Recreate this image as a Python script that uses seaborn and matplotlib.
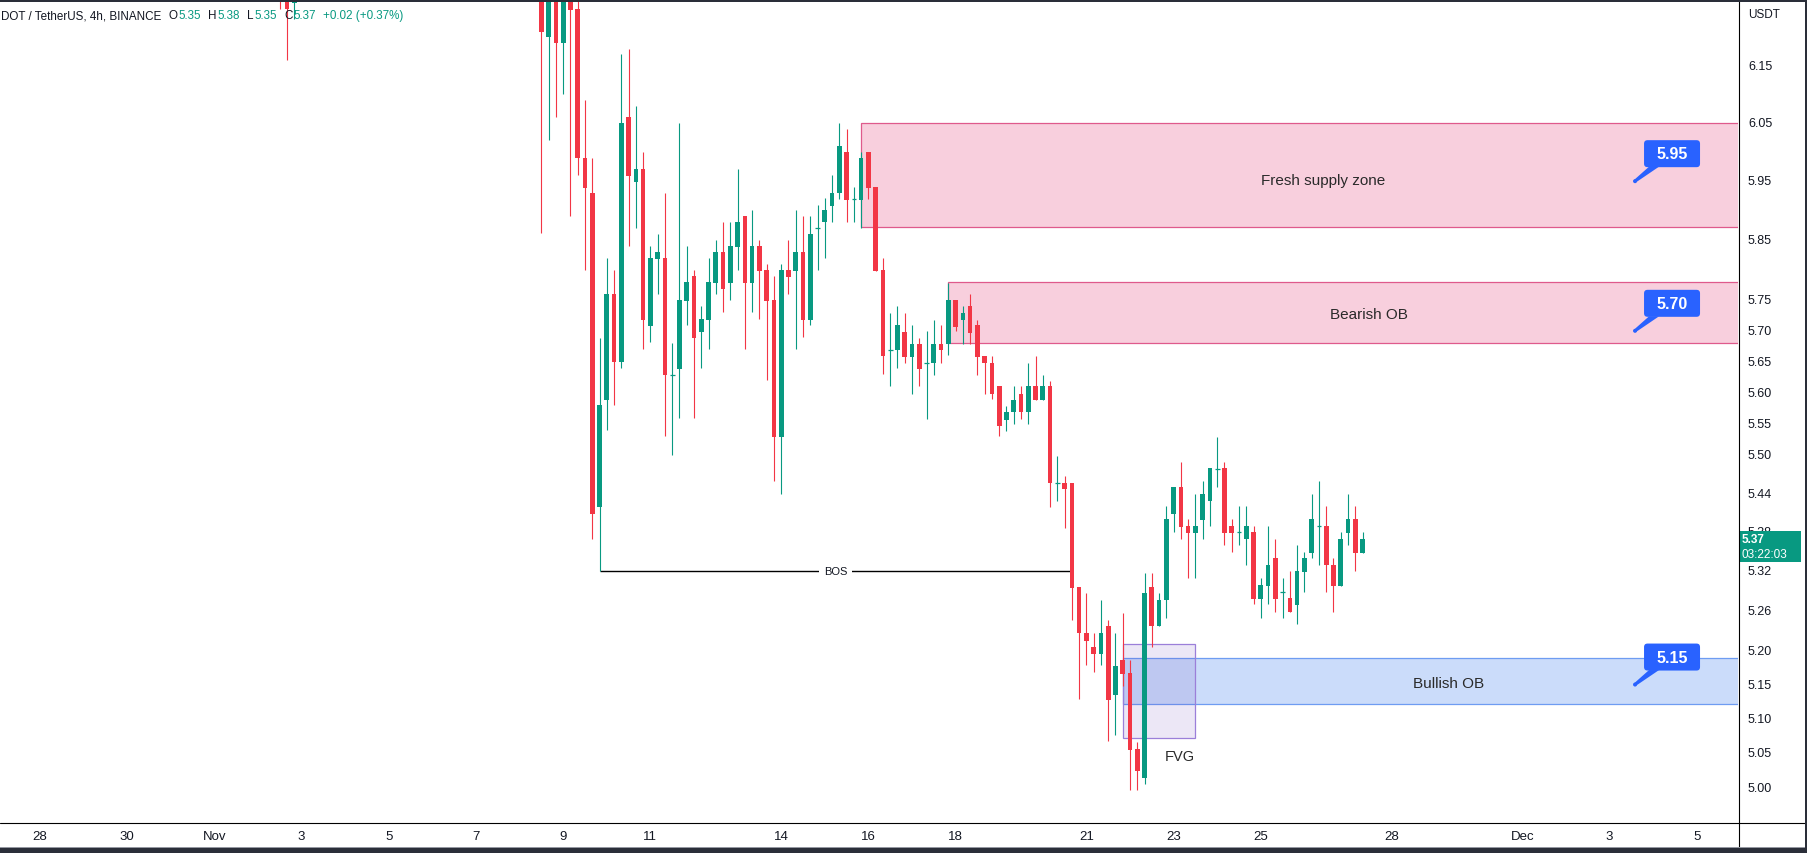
import numpy as np
import pandas as pd
import matplotlib
matplotlib.use("Agg")
import matplotlib.pyplot as plt
import matplotlib.dates as mdates
import seaborn as sns
from matplotlib.patches import Rectangle, FancyBboxPatch, Polygon, Circle
from matplotlib.transforms import IdentityTransform, blended_transform_factory
from matplotlib.lines import Line2D
from matplotlib.ticker import NullLocator

sns.set_theme(style="white")
plt.rcParams["font.family"] = ["Liberation Sans", "DejaVu Sans"]

# ---------------- data ----------------
early_times = ["2022-11-02 12:00", "2022-11-02 16:00", "2022-11-02 20:00"]
early_open = [6.40, 6.36, 6.262]
early_high = [6.42, 6.40, 6.34]
early_low = [6.252, 6.161, 6.233]
early_close = [6.30, 6.251, 6.31]

main_start = "2022-11-08 12:00"
opens = [6.30, 6.201, 6.29, 6.190, 6.27, 6.251, 5.989, 5.930, 5.419, 5.588,
         5.760, 5.649, 6.061, 5.949, 5.971, 5.708, 5.819, 5.820, 5.629, 5.638,
         5.749, 5.790, 5.698, 5.718, 5.779, 5.830, 5.779, 5.839, 5.891, 5.779,
         5.841, 5.800, 5.750, 5.529, 5.800, 5.799, 5.830, 5.718, 5.871, 5.880,
         5.908, 5.929, 6.000, 5.919, 5.918, 6.000, 5.940, 5.800, 5.669, 5.669,
         5.698, 5.658, 5.679, 5.648, 5.648, 5.679, 5.678, 5.750, 5.718, 5.740,
         5.709, 5.659, 5.648, 5.610, 5.556, 5.568, 5.598, 5.568, 5.610, 5.588,
         5.610, 5.457, 5.457, 5.457, 5.296, 5.226, 5.206, 5.196, 5.237, 5.134,
         5.187, 5.167, 5.056, 5.014, 5.296, 5.237, 5.277, 5.408, 5.450, 5.389,
         5.379, 5.399, 5.429, 5.479, 5.480, 5.389, 5.380, 5.369, 5.380, 5.278,
         5.298, 5.340, 5.289, 5.279, 5.269, 5.319, 5.348, 5.389, 5.389, 5.330,
         5.298, 5.379, 5.400, 5.348]
highs = [6.33, 6.30, 6.31, 6.30, 6.29, 6.28, 6.090, 5.989, 5.689, 5.820,
         5.801, 6.171, 6.180, 6.080, 6.000, 5.841, 5.860, 5.930, 5.680, 6.050,
         5.841, 5.800, 5.741, 5.820, 5.850, 5.881, 5.881, 5.971, 5.891, 5.901,
         5.850, 5.810, 5.790, 5.810, 5.850, 5.901, 5.891, 5.891, 5.909, 5.921,
         5.960, 6.050, 6.040, 5.940, 6.000, 6.000, 5.940, 5.820, 5.729, 5.740,
         5.729, 5.709, 5.689, 5.699, 5.718, 5.709, 5.779, 5.750, 5.740, 5.760,
         5.718, 5.659, 5.659, 5.610, 5.578, 5.610, 5.610, 5.648, 5.659, 5.629,
         5.619, 5.499, 5.468, 5.457, 5.296, 5.287, 5.226, 5.277, 5.246, 5.226,
         5.257, 5.187, 5.066, 5.318, 5.318, 5.287, 5.420, 5.450, 5.489, 5.400,
         5.439, 5.459, 5.480, 5.529, 5.489, 5.400, 5.420, 5.420, 5.389, 5.310,
         5.389, 5.369, 5.310, 5.320, 5.360, 5.350, 5.439, 5.459, 5.420, 5.340,
         5.380, 5.439, 5.420, 5.380]
lows = [5.862, 6.021, 6.061, 6.101, 5.891, 5.961, 5.801, 5.370, 5.320, 5.540,
        5.580, 5.639, 5.841, 5.871, 5.671, 5.681, 5.760, 5.531, 5.501, 5.560,
        5.709, 5.560, 5.639, 5.671, 5.760, 5.731, 5.750, 5.801, 5.671, 5.731,
        5.719, 5.620, 5.460, 5.439, 5.760, 5.671, 5.690, 5.709, 5.801, 5.820,
        5.881, 5.920, 5.881, 5.881, 5.871, 5.919, 5.799, 5.630, 5.610, 5.639,
        5.648, 5.598, 5.610, 5.558, 5.629, 5.648, 5.660, 5.699, 5.679, 5.679,
        5.629, 5.598, 5.589, 5.530, 5.539, 5.549, 5.558, 5.549, 5.588, 5.588,
        5.419, 5.428, 5.387, 5.247, 5.128, 5.179, 5.168, 5.179, 5.067, 5.076,
        5.148, 4.996, 4.996, 5.005, 5.206, 5.237, 5.249, 5.381, 5.369, 5.310,
        5.310, 5.369, 5.390, 5.450, 5.360, 5.350, 5.360, 5.330, 5.270, 5.249,
        5.270, 5.259, 5.249, 5.259, 5.240, 5.289, 5.340, 5.330, 5.289, 5.259,
        5.298, 5.360, 5.320, 5.348]
closes = [6.210, 6.28, 6.190, 6.27, 6.250, 5.989, 5.939, 5.408, 5.580, 5.760,
          5.649, 6.050, 5.959, 5.971, 5.718, 5.820, 5.830, 5.629, 5.629, 5.750,
          5.780, 5.688, 5.719, 5.780, 5.830, 5.769, 5.841, 5.881, 5.779, 5.841,
          5.799, 5.749, 5.529, 5.800, 5.789, 5.830, 5.718, 5.860, 5.871, 5.901,
          5.930, 6.010, 5.918, 5.919, 5.989, 5.939, 5.799, 5.659, 5.669, 5.709,
          5.658, 5.679, 5.638, 5.648, 5.679, 5.668, 5.750, 5.707, 5.730, 5.697,
          5.658, 5.648, 5.598, 5.547, 5.569, 5.588, 5.568, 5.610, 5.588, 5.610,
          5.457, 5.457, 5.447, 5.295, 5.226, 5.215, 5.196, 5.226, 5.127, 5.178,
          5.166, 5.054, 5.024, 5.287, 5.237, 5.277, 5.400, 5.450, 5.388, 5.379,
          5.389, 5.439, 5.480, 5.479, 5.379, 5.379, 5.380, 5.389, 5.278, 5.299,
          5.330, 5.278, 5.289, 5.259, 5.320, 5.340, 5.400, 5.389, 5.329, 5.298,
          5.369, 5.400, 5.348, 5.369]

tick_dates = ["2022-10-28", "2022-10-30", "2022-11-01", "2022-11-03", "2022-11-05",
              "2022-11-07", "2022-11-09", "2022-11-11", "2022-11-14", "2022-11-16",
              "2022-11-18", "2022-11-21", "2022-11-23", "2022-11-25", "2022-11-28",
              "2022-12-01", "2022-12-03", "2022-12-05"]
tick_labels = ["28", "30", "Nov", "3", "5", "7", "9", "11", "14", "16", "18",
               "21", "23", "25", "28", "Dec", "3", "5"]
price_ticks = [6.15, 6.05, 5.95, 5.85, 5.75, 5.70, 5.65, 5.60, 5.55, 5.50,
               5.44, 5.38, 5.32, 5.26, 5.20, 5.15, 5.10, 5.05, 5.00]

# zones: (start candle index, top, bottom)
supply_zone = (44, 6.050, 5.872)
bearish_ob = (56, 5.780, 5.680)
bullish_ob = (80, 5.189, 5.121)
fvg_zone = (80, 90, 5.210, 5.071)
bos_span = (8, 73, 5.320)

zone_texts = [("Fresh supply zone", "2022-11-26 10:30", 5.952),
              ("Bearish OB", "2022-11-27 11:15", 5.728),
              ("Bullish OB", "2022-11-29 07:10", 5.152),
              ("FVG", "2022-11-23 03:40", 5.045)]
callouts = [("5.95", 5.95), ("5.70", 5.70), ("5.15", 5.15)]
callout_time = "2022-12-03 14:00"
last_price = 5.369
countdown = "03:22:03"
header_title = "DOT / TetherUS, 4h, BINANCE"
header_ohlc = [("O", "5.35"), ("H", "5.38"), ("L", "5.35"), ("C", "5.37")]
header_change = "+0.02 (+0.37%)"

# ---------------- build ----------------
GREEN = "#089981"
RED = "#F23645"
BLUE = "#2962FF"
TXT = "#131722"
W, H = 1808, 854

times = list(pd.to_datetime(early_times)) + list(pd.date_range(main_start, periods=len(opens), freq="4h"))
df = pd.DataFrame({
    "t": mdates.date2num(times),
    "o": early_open + opens,
    "h": early_high + highs,
    "l": early_low + lows,
    "c": early_close + closes,
})
df["col"] = np.where(df["c"] >= df["o"], GREEN, RED)
main_t = df["t"].values[len(early_open):]

fig = plt.figure(figsize=(W / 100, H / 100), dpi=100, facecolor="white")
ax = fig.add_axes([0, 31 / H, 1738 / W, 820 / H])
ax.set_facecolor("white")
for s in ax.spines.values():
    s.set_visible(False)

day0 = mdates.date2num(pd.Timestamp("2022-10-28"))
pxday = 43.6
ax.set_xlim(day0 - 40 / pxday, day0 + 1698 / pxday)
ax.set_yscale("log")
ax.set_ylim(4.9509, 6.2638)
ax.xaxis.set_major_locator(NullLocator())
ax.xaxis.set_minor_locator(NullLocator())
ax.yaxis.set_major_locator(NullLocator())
ax.yaxis.set_minor_locator(NullLocator())

xmax = ax.get_xlim()[1] + 5

# zones
def zone(i0, top, bot, fc, ec, x1=None, alpha=1.0, z=1):
    x0 = main_t[i0]
    x1 = xmax if x1 is None else x1
    ax.add_patch(Rectangle((x0, bot), x1 - x0, top - bot, facecolor=fc, edgecolor="none",
                           alpha=alpha, zorder=z))
    ax.add_patch(Rectangle((x0, bot), x1 - x0, top - bot, facecolor="none", edgecolor=ec,
                           linewidth=0.9, zorder=z + 0.1))

zone(supply_zone[0], supply_zone[1], supply_zone[2], "#F8CFDD", "#DF5A8C")
zone(bearish_ob[0], bearish_ob[1], bearish_ob[2], "#F8CFDD", "#DF5A8C")
zone(bullish_ob[0], bullish_ob[1], bullish_ob[2], "#CBDCFA", "#6E9CF2")
zone(fvg_zone[0], fvg_zone[2], fvg_zone[3], "#673AB7", "#9B7FD9", x1=main_t[fvg_zone[1]],
     alpha=0.12, z=1.5)

# BOS line
bx0, bx1 = main_t[bos_span[0]], main_t[bos_span[1]]
ax.plot([bx0, bx1], [bos_span[2]] * 2, color="black", linewidth=1.0, zorder=2,
        solid_capstyle="butt")
ax.text((bx0 + bx1) / 2, bos_span[2], "BOS", ha="center", va="center", fontsize=8,
        color=TXT, zorder=2.5,
        bbox=dict(boxstyle="square,pad=0.45", fc="white", ec="none"))

# candles
bw = 0.108
ax.vlines(df["t"], df["l"], df["h"], colors=df["col"], linewidth=0.8, zorder=3)
body_lo = np.minimum(df["o"], df["c"])
body_h = np.abs(df["c"] - df["o"])
ax.bar(df["t"], body_h, bottom=body_lo, width=bw, color=df["col"], linewidth=0, zorder=3.2)
doji = body_h < 1e-9
ax.hlines(df["c"][doji], df["t"][doji] - bw / 2, df["t"][doji] + bw / 2,
          colors=df["col"][doji], linewidth=0.9, zorder=3.2)

# zone labels
for s, t, p in zone_texts:
    ax.text(mdates.date2num(pd.Timestamp(t)), p, s, ha="center", va="center",
            fontsize=11 if s != "FVG" else 10.5, color="#2a2a2a", zorder=4)

# date labels
tr_x = blended_transform_factory(ax.transData, IdentityTransform())
for d, lab in zip(tick_dates, tick_labels):
    ax.text(mdates.date2num(pd.Timestamp(d)), H - 837.5, lab, transform=tr_x,
            ha="center", va="center", fontsize=9.5, color=TXT, clip_on=False)

# price labels
tr_y = blended_transform_factory(IdentityTransform(), ax.transData)
for p in price_ticks:
    ax.text(1748, p, f"{p:.2f}", transform=tr_y, ha="left", va="center",
            fontsize=9, color=TXT, clip_on=False, zorder=5)
fig.text(1748, H - 15.5, "USDT", transform=IdentityTransform(), ha="left", va="center",
         fontsize=8.5, color=TXT)

fig.canvas.draw()
renderer = fig.canvas.get_renderer()

# callouts
ct = mdates.date2num(pd.Timestamp(callout_time))
for lab, p in callouts:
    tx, ty = ax.transData.transform((ct, p))
    fig.add_artist(FancyBboxPatch((tx + 9, ty + 14), 56, 27,
                                  boxstyle="round,pad=0,rounding_size=3.5",
                                  fc=BLUE, ec="none", transform=IdentityTransform(), zorder=6))
    fig.add_artist(Polygon([(tx - 1.0, ty + 1.2), (tx + 1.2, ty - 1.0), (tx + 24, ty + 14.5),
                            (tx + 14, ty + 14.5)], closed=True, fc=BLUE, ec="none",
                           transform=IdentityTransform(), zorder=6))
    fig.add_artist(Circle((tx, ty), 2.0, fc=BLUE, ec="none", transform=IdentityTransform(),
                          zorder=6))
    fig.text(tx + 37, ty + 27.5, lab, transform=IdentityTransform(), ha="center",
             va="center", fontsize=11.5, fontweight="bold", color="white", zorder=7)

# last price tag
lx, ly = ax.transData.transform((ct, last_price))
fig.add_artist(Rectangle((1738.5, ly - 22.5), 62, 30.5, fc=GREEN, ec="none",
                         transform=IdentityTransform(), zorder=8))
fig.text(1742, ly, f"{last_price:.2f}", transform=IdentityTransform(), ha="left",
         va="center", fontsize=8.5, fontweight="bold", color="white", zorder=9)
fig.text(1742, ly - 14.5, countdown, transform=IdentityTransform(), ha="left",
         va="center", fontsize=8.5, color="white", zorder=9)

# header (laid out piece by piece)
hy = H - 16.5
hfs = 8.4
t0 = fig.text(0.8, hy, header_title, transform=IdentityTransform(), ha="left",
              va="center", fontsize=hfs, color=TXT, zorder=9)
x = t0.get_window_extent(renderer).x1 + 7.5
for letter, val in header_ohlc:
    tl = fig.text(x, hy, letter, transform=IdentityTransform(), ha="left", va="center",
                  fontsize=hfs, color=TXT, zorder=9)
    x = tl.get_window_extent(renderer).x1 + 0.6
    tv = fig.text(x, hy, val, transform=IdentityTransform(), ha="left", va="center",
                  fontsize=hfs, color=GREEN, zorder=9)
    x = tv.get_window_extent(renderer).x1 + 7.5
fig.text(x, hy, header_change, transform=IdentityTransform(), ha="left", va="center",
         fontsize=hfs, color=GREEN, zorder=9)

# separators and frame
fig.add_artist(Line2D([1738.5, 1738.5], [H - 849, H - 2], color="black", linewidth=0.8,
                      transform=IdentityTransform(), zorder=10))
fig.add_artist(Line2D([0, 1805], [H - 823.5, H - 823.5], color="black", linewidth=0.8,
                      transform=IdentityTransform(), zorder=10))
DARK = "#2A2E39"
fig.add_artist(Rectangle((0, H - 2.5), W, 2.5, fc=DARK, ec="none",
                         transform=IdentityTransform(), zorder=11))
fig.add_artist(Rectangle((0, 0), W, 5, fc=DARK, ec="none",
                         transform=IdentityTransform(), zorder=11))
fig.add_artist(Rectangle((0, 5), W, 1, fc="#9598A1", ec="none",
                         transform=IdentityTransform(), zorder=11))
fig.add_artist(Rectangle((W - 3, 0), 3, H, fc=DARK, ec="none",
                         transform=IdentityTransform(), zorder=11))

fig.savefig("out.png", dpi=100, facecolor="white")
